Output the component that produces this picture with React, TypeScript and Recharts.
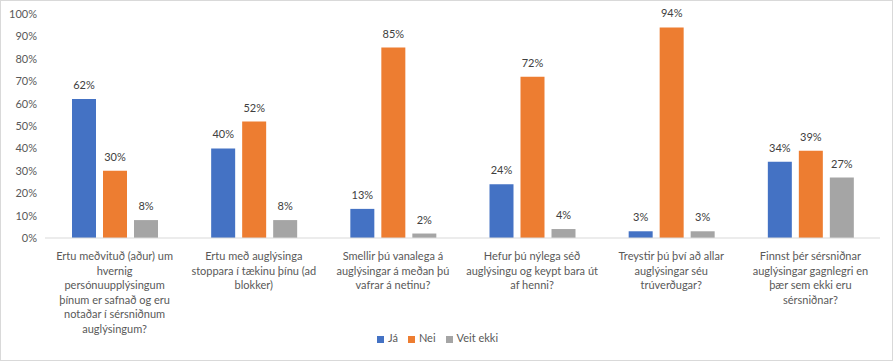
import React from "react";
import { BarChart, Bar, XAxis, YAxis, Legend, LabelList } from "recharts";

const categories = [
	"Ertu meðvituð (aður) um\nhvernig\npersónuupplýsingum\nþínum er safnað og eru\nnotaðar í sérsniðnum\nauglýsingum?",
	"Ertu með auglýsinga\nstoppara í tækinu þínu (ad\nblokker)",
	"Smellir þú vanalega á\nauglýsingar á meðan þú\nvafrar á netinu?",
	"Hefur þú nýlega séð\nauglýsingu og keypt bara út\naf henni?",
	"Treystir þú því að allar\nauglýsingar séu\ntrúverðugar?",
	"Finnst þér sérsniðnar\nauglýsingar gagnlegri en\nþær sem ekki eru\nsérsniðnar?",
];
const ja = [62, 40, 13, 24, 3, 34];
const nei = [30, 52, 85, 72, 94, 39];
const veitEkki = [8, 8, 2, 4, 3, 27];
const yTicks = [0, 10, 20, 30, 40, 50, 60, 70, 80, 90, 100];

const data = categories.map((name, i) => ({
	name,
	"Já": ja[i],
	"Nei": nei[i],
	"Veit ekki": veitEkki[i],
}));

const font = "Lato, 'Noto Sans', sans-serif";
const textColor = "#595959";

const WrappedTick = (props: any) => {
	const { x, y, payload } = props;
	const lines = String(payload.value).split("\n");
	return (
		<text x={x} y={y + 14} textAnchor="middle" fill={textColor} fontSize={11} fontFamily={font}>
			{lines.map((line: string, i: number) => (
				<tspan key={i} x={x} dy={i === 0 ? 0 : 14.5}>
					{line}
				</tspan>
			))}
		</text>
	);
};

const pct = (v: any) => `${v}%`;

export default function App() {
	return (
		<div
			style={{
				position: "absolute",
				left: 0,
				top: 0,
				width: 893,
				height: 361,
				boxSizing: "border-box",
				border: "1px solid #d9d9d9",
				background: "#fff",
			}}
		>
			<BarChart
				width={891}
				height={359}
				data={data}
				margin={{ top: 13, right: 12, bottom: 16, left: 4 }}
				barSize={24}
				barGap={7}
			>
				<XAxis
					dataKey="name"
					interval={0}
					height={93}
					tickLine={false}
					axisLine={{ stroke: "#d9d9d9" }}
					tick={<WrappedTick />}
				/>
				<YAxis
					width={40}
					domain={[0, 100]}
					ticks={yTicks}
					tickFormatter={pct}
					axisLine={false}
					tickLine={false}
					tick={{ fontSize: 11, fill: textColor, fontFamily: font }}
				/>
				<Legend
					verticalAlign="bottom"
					iconType="square"
					iconSize={7}
					wrapperStyle={{ fontSize: 11, fontFamily: font, color: textColor }}
					formatter={(value: any) => <span style={{ color: textColor }}>{value}</span>}
				/>
				<Bar dataKey="Já" fill="#4472c4" isAnimationActive={false}>
					<LabelList dataKey="Já" position="top" offset={10} formatter={pct} fill="#404040" fontSize={11} fontFamily={font} />
				</Bar>
				<Bar dataKey="Nei" fill="#ed7d31" isAnimationActive={false}>
					<LabelList dataKey="Nei" position="top" offset={10} formatter={pct} fill="#404040" fontSize={11} fontFamily={font} />
				</Bar>
				<Bar dataKey="Veit ekki" fill="#a5a5a5" isAnimationActive={false}>
					<LabelList dataKey="Veit ekki" position="top" offset={10} formatter={pct} fill="#404040" fontSize={11} fontFamily={font} />
				</Bar>
			</BarChart>
		</div>
	);
}
